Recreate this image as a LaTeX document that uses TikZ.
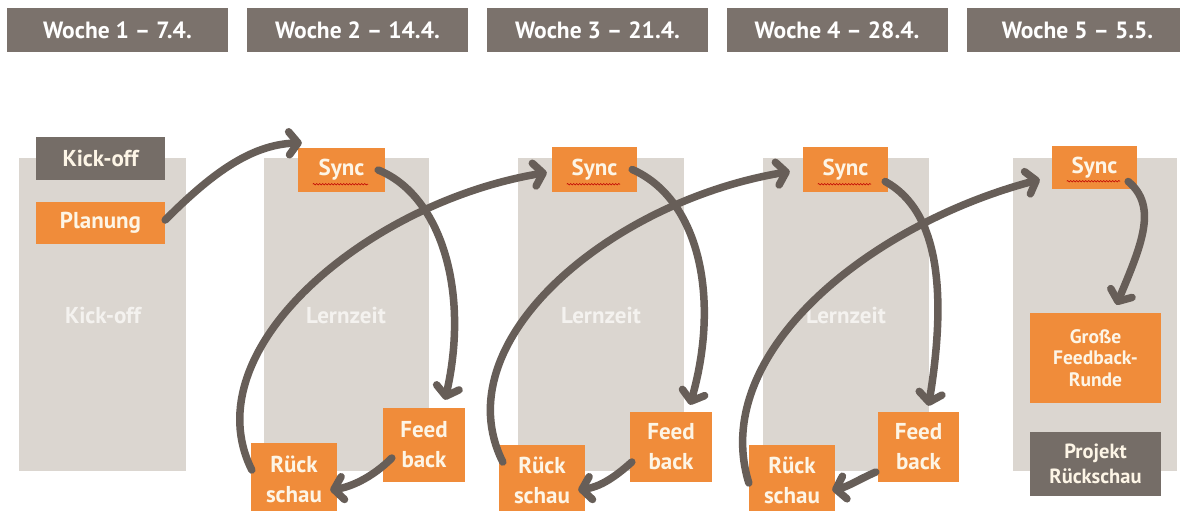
\documentclass[tikz,border=0pt]{standalone}
\usepackage{fontspec}
\setmainfont{PT Sans}
\usetikzlibrary{arrows.meta,calc,decorations.pathmorphing}
\definecolor{hdr}{HTML}{7B726C}
\definecolor{colbg}{HTML}{DBD6D0}
\definecolor{orng}{HTML}{F08C3A}
\definecolor{arrc}{HTML}{675E58}
\definecolor{dark}{HTML}{756D67}
\definecolor{cream}{HTML}{FDF5E6}
\definecolor{lbl}{HTML}{F4F2EF}
\begin{document}
\begin{tikzpicture}[x=1pt,y=-1pt,
  hbox/.style={fill=hdr, text=white, inner sep=0pt, minimum width=221pt, minimum height=44pt, font=\bfseries\fontsize{23.5}{28}\selectfont},
  colrect/.style={fill=colbg, inner sep=0pt, minimum height=313pt},
  collbl/.style={text=lbl, font=\bfseries\fontsize{23}{28}\selectfont},
  obox/.style={fill=orng, text=cream, inner sep=0pt, align=center, font=\bfseries\fontsize{23}{30}\selectfont},
  dbox/.style={fill=dark, text=cream, inner sep=0pt, align=center, font=\bfseries\fontsize{23}{30}\selectfont},
  arr/.style={draw=arrc, line width=7.5pt, line cap=round, -{Straight Barb[length=9pt,width=23pt,round]}},
  wavy/.style={draw=red!75!black, line width=0.6pt, decorate, decoration={snake, amplitude=0.7pt, segment length=3pt}}
]
\useasboundingbox[fill=white] (0,0) rectangle (1180,511);

% header boxes
\node[hbox] (h1) at (117.5,30) {Woche 1 – 7.4.};
\node[hbox] (h2) at (357.5,30) {Woche 2 – 14.4.};
\node[hbox] (h3) at (597.5,30) {Woche 3 – 21.4.};
\node[hbox] (h4) at (837,30) {Woche 4 – 28.4.};
\node[hbox] (h5) at (1077.5,30) {Woche 5 – 5.5.};

% columns
\node[colrect, minimum width=167pt] (c1) at (102.5,314.5) {};
\node[colrect, minimum width=165pt] (c2) at (346.5,314.5) {};
\node[colrect, minimum width=166pt] (c3) at (601,314.5) {};
\node[colrect, minimum width=166pt] (c4) at (846,314.5) {};
\node[colrect, minimum width=164pt] (c5) at (1095,314.5) {};

\node[collbl] (l1) at (103,315) {Kick-off};
\node[collbl] (l2) at (346,315) {Lernzeit};
\node[collbl] (l3) at (601,315) {Lernzeit};
\node[collbl] (l4) at (846,315) {Lernzeit};

% boxes
\node[dbox, minimum width=129pt, minimum height=43pt] (ko) at (100.5,158.5) {Kick-off};
\node[obox, minimum width=129pt, minimum height=42pt] (plan) at (100.5,223) {Planung};

\node[obox, minimum width=87pt, minimum height=44pt] (s2) at (341.5,170) {Sync};
\node[obox, minimum width=85pt, minimum height=45pt] (s3) at (594.5,169.5) {Sync};
\node[obox, minimum width=85pt, minimum height=45pt] (s4) at (845.5,169.5) {Sync};
\node[obox, minimum width=85pt, minimum height=43pt] (s5) at (1094.5,167.5) {Sync};

\node[obox, minimum width=82pt, minimum height=74pt] (f2) at (424,445) {Feed\\back};
\node[obox, minimum width=82pt, minimum height=70pt] (f3) at (671,447) {Feed\\back};
\node[obox, minimum width=81pt, minimum height=70pt] (f4) at (918.5,447) {Feed\\back};

\node[obox, minimum width=86pt, minimum height=72pt] (r2) at (294,479) {Rück\\schau};
\node[obox, minimum width=86pt, minimum height=70pt] (r3) at (542,480) {Rück\\schau};
\node[obox, minimum width=86pt, minimum height=70pt] (r4) at (792,480) {Rück\\schau};

\node[obox, minimum width=131pt, minimum height=90pt, font=\bfseries\fontsize{19.5}{21.5}\selectfont] (gr) at (1095.5,358) {Große\\Feedback-\\Runde};
\node[dbox, minimum width=131pt, minimum height=64pt, font=\bfseries\fontsize{20.5}{25}\selectfont] (pr) at (1095.5,464) {Projekt\\Rückschau};

% spell-check underlines
\foreach \s in {s2,s3,s4,s5}{
  \draw[wavy] ($(\s.south west)+(15,-8)$) -- ($(\s.south east)+(-17,-8)$);
}

% arrows
\draw[arr] ($(plan.east)+(0,-3)$) .. controls +(45,-45) and +(-52,2) .. ($(s2.north west)+(4,-5)$);
\draw[arr] ($(s2.east)+(-7,0)$) .. controls +(62,25) and +(25,-110) .. ($(f2.north)+(21,-8)$);
\draw[arr] ($(f2.west)+(9,13)$) .. controls +(-20,20) and +(20,-3) .. ($(r2.east)+(-7,11)$);
\draw[arr] ($(r2.west)+(1,-9)$) .. controls +(-60,-120) and +(-180,30) .. ($(s3.west)+(-5,3)$);

\draw[arr] ($(s3.east)+(-5,0)$) .. controls +(68,30) and +(30,-105) .. ($(f3.north)+(19,-7)$);
\draw[arr] ($(f3.west)+(2,15)$) .. controls +(-20,18) and +(20,-3) .. ($(r3.east)+(-7,10)$);
\draw[arr] ($(r3.west)+(4,-18)$) .. controls +(-60,-120) and +(-180,30) .. ($(s4.west)+(-13,2)$);

\draw[arr] ($(s4.east)+(-3,12)$) .. controls +(55,30) and +(18,-110) .. ($(f4.north)+(10,-6)$);
\draw[arr] ($(f4.west)+(-2,25)$) .. controls +(-18,8) and +(15,-3) .. ($(r4.east)+(-3,10)$);
\draw[arr] ($(r4.west)+(0,3)$) .. controls +(-40,-130) and +(-170,45) .. ($(s5.west)+(-12,12)$);

\draw[arr] ($(s5.east)+(-9,14)$) .. controls +(30,25) and +(25,-60) .. ($(gr.north)+(21,-8)$);
\end{tikzpicture}
\end{document}
